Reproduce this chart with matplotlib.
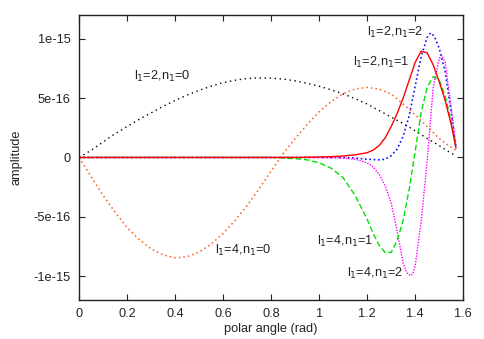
import matplotlib
matplotlib.use("Agg")
import matplotlib.pyplot as plt
from matplotlib.ticker import FixedLocator, FixedFormatter

plt.rcParams['font.family'] = ['Liberation Sans', 'DejaVu Sans']

SCALE = 1e-16  # values below are in units of 1e-16

# l1=2, n1=0 (black)
x_20 = [0, 0.05, 0.1, 0.15, 0.2, 0.25, 0.3, 0.35, 0.4, 0.45, 0.5, 0.55, 0.6, 0.65, 0.7, 0.75,
        0.8, 0.85, 0.9, 0.95, 1.0, 1.05, 1.1, 1.15, 1.2, 1.25, 1.3, 1.35, 1.4, 1.45, 1.5, 1.55, 1.57]
y_20 = [0, 0.6, 1.3, 2.0, 2.6, 3.2, 3.75, 4.3, 4.8, 5.25, 5.65, 6.0, 6.3, 6.5, 6.65, 6.7,
        6.68, 6.6, 6.45, 6.25, 6.0, 5.7, 5.35, 4.95, 4.5, 3.95, 3.4, 2.85, 2.25, 1.6, 1.0, 0.35, 0.15]

# l1=4, n1=0 (orange)
x_40 = [0, 0.05, 0.1, 0.15, 0.2, 0.25, 0.3, 0.35, 0.4, 0.45, 0.5, 0.55, 0.6, 0.65, 0.7, 0.75,
        0.8, 0.85, 0.9, 0.95, 1.0, 1.05, 1.1, 1.15, 1.2, 1.25, 1.3, 1.35, 1.4, 1.45, 1.5, 1.55, 1.57]
y_40 = [0, -1.6, -3.2, -4.6, -5.9, -6.9, -7.7, -8.2, -8.45, -8.35, -7.97, -7.3, -6.4, -5.3, -4.06, -2.63,
        -1.15, 0.32, 1.59, 2.78, 3.84, 4.7, 5.37, 5.77, 5.9, 5.75, 5.35, 4.5, 3.6, 2.6, 1.6, 0.85, 0.6]

# l1=2, n1=1 (red)
x_21 = [0, 0.9, 0.95, 1.0, 1.05, 1.1, 1.15, 1.2, 1.225, 1.25, 1.275, 1.3, 1.325, 1.35, 1.375, 1.4,
        1.425, 1.45, 1.475, 1.5, 1.525, 1.55, 1.57]
y_21 = [0, 0, 0.02, 0.04, 0.07, 0.12, 0.22, 0.4, 0.62, 1.0, 1.65, 2.6, 3.7, 5.0, 6.5, 8.0,
        8.95, 8.8, 7.8, 6.4, 4.8, 2.8, 0.8]

# l1=2, n1=2 (blue)
x_22 = [0, 1.1, 1.15, 1.2, 1.25, 1.275, 1.3, 1.325, 1.35, 1.375, 1.4, 1.425, 1.45, 1.465, 1.48,
        1.5, 1.525, 1.55, 1.57]
y_22 = [0, 0, -0.05, -0.15, -0.2, -0.15, 0.15, 0.7, 1.8, 3.5, 6.0, 8.5, 10.1, 10.5, 10.2,
        9.2, 7.2, 3.8, 0.8]

# l1=4, n1=1 (green)
x_41 = [0, 0.8, 0.85, 0.9, 0.95, 1.0, 1.05, 1.1, 1.15, 1.2, 1.225, 1.25, 1.275, 1.3, 1.325, 1.35,
        1.375, 1.4, 1.425, 1.45, 1.475, 1.5, 1.525, 1.55, 1.57]
y_41 = [0, 0, -0.05, -0.1, -0.2, -0.45, -0.9, -1.7, -3.2, -5.2, -6.4, -7.4, -8.0, -8.0, -7.0, -5.3,
        -2.7, 0.5, 3.8, 5.9, 6.8, 6.5, 5.2, 3.0, 1.0]

# l1=4, n1=2 (magenta)
x_42 = [0, 1.0, 1.05, 1.1, 1.15, 1.2, 1.225, 1.25, 1.275, 1.3, 1.325, 1.35, 1.365, 1.38, 1.39,
        1.4, 1.425, 1.45, 1.475, 1.5, 1.51, 1.525, 1.55, 1.57]
y_42 = [0, 0, -0.02, -0.05, -0.15, -0.45, -0.8, -1.4, -2.4, -3.8, -6.2, -8.9, -9.7, -9.95, -9.8,
        -9.1, -5.4, -0.3, 5.9, 8.3, 8.6, 8.0, 4.2, 0.9]

labels = ["l$_1$=2,n$_1$=0", "l$_1$=4,n$_1$=0", "l$_1$=2,n$_1$=1",
          "l$_1$=2,n$_1$=2", "l$_1$=4,n$_1$=1", "l$_1$=4,n$_1$=2"]
label_x = [0.23, 0.565, 1.14, 1.2, 0.99, 1.115]
label_y = [6.8, -7.85, 8.0, 10.5, -7.1, -9.8]

xticks = [0, 0.2, 0.4, 0.6, 0.8, 1.0, 1.2, 1.4, 1.6]
xticklabels = ["0", "0.2", "0.4", "0.6", "0.8", "1", "1.2", "1.4", "1.6"]
yticks = [10, 5, 0, -5, -10]
yticklabels = ["1e-15", "5e-16", "0", "-5e-16", "-1e-15"]

FS = 9.2

fig = plt.figure(figsize=(4.85, 3.39), dpi=100)
ax = fig.add_axes([0.163, 0.115, 0.792, 0.841])

def sc(v):
    return [a * SCALE for a in v]

ax.plot(x_20, sc(y_20), color='#000000', lw=1.0, ls=(0, (1, 2.6)))
ax.plot(x_40, sc(y_40), color='#ff5a1a', lw=1.1, ls=(0, (1, 2)))
ax.plot(x_22, sc(y_22), color='#1010ff', lw=1.2, ls=(0, (1, 1.6)))
ax.plot(x_42, sc(y_42), color='#ff00ff', lw=1.0, ls=(0, (1, 1)))
ax.plot(x_41, sc(y_41), color='#00e000', lw=1.0, ls=(0, (4, 2)))
ax.plot(x_21, sc(y_21), color='#ff0000', lw=1.0, ls='-')

for t, lx, ly in zip(labels, label_x, label_y):
    ax.text(lx, ly * SCALE, t, fontsize=FS, ha='left', va='center', color='#222222')

ax.set_xlim(0, 1.6)
ax.set_ylim(-1.2e-15, 1.2e-15)
ax.xaxis.set_major_locator(FixedLocator(xticks))
ax.xaxis.set_major_formatter(FixedFormatter(xticklabels))
ax.yaxis.set_major_locator(FixedLocator(sc(yticks)))
ax.yaxis.set_major_formatter(FixedFormatter(yticklabels))
ax.tick_params(direction='in', length=4, width=0.8, top=True, right=True,
               labelsize=FS, pad=6, colors='#222222')
for s in ax.spines.values():
    s.set_linewidth(1.0)
    s.set_color('#222222')

ax.set_xlabel("polar angle (rad)", fontsize=FS, color='#222222', labelpad=2)
ax.set_ylabel("amplitude", fontsize=FS, color='#222222', labelpad=8)

fig.savefig("out.png", dpi=100)
